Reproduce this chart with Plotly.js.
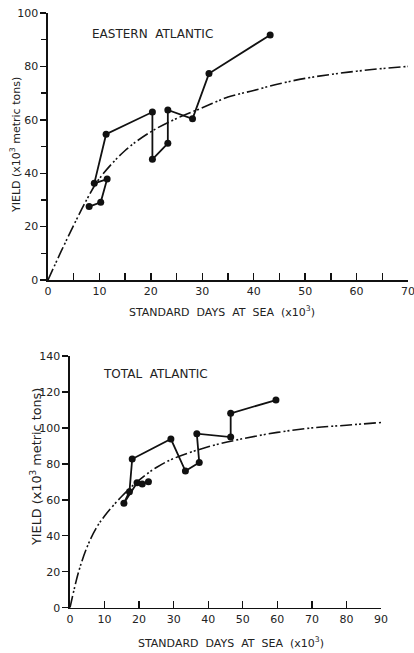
<!DOCTYPE html>
<html>
<head>
<meta charset="utf-8">
<script src="https://cdn.plot.ly/plotly-3.0.1.min.js"></script>
<style>html,body{margin:0;padding:0;background:#fff;}#chart{width:414px;height:653px;}</style>
</head>
<body>
<div id="chart"></div>
<script>
// Eastern Atlantic observed (standard days x10^3, yield x10^3 t)
var eastDays  = [8.0, 10.25, 11.5, 9.0, 11.3, 20.3, 20.3, 23.3, 23.3, 28.1, 31.3, 43.2];
var eastYield = [27.5, 29.1, 37.8, 36.2, 54.6, 62.9, 45.2, 51.2, 63.7, 60.4, 77.3, 91.8];
// Eastern Atlantic fitted curve
var eastCurveDays  = [0, 2.5, 5, 7.5, 10, 15, 20, 25, 30, 35, 40, 45, 50, 55, 60, 65, 70];
var eastCurveYield = [0, 10.5, 20.5, 30, 38, 48.5, 55.5, 60.5, 64.5, 68.5, 71, 73.5, 75.5, 77, 78.2, 79.2, 80];
// Total Atlantic observed
var totalDays  = [22.7, 20.9, 19.4, 15.6, 17.2, 18.0, 29.2, 33.4, 37.4, 36.7, 46.5, 46.5, 59.6];
var totalYield = [70.0, 68.8, 69.5, 58.1, 64.5, 82.7, 93.8, 76.0, 80.8, 96.8, 94.9, 108.1, 115.5];
// Total Atlantic fitted curve
var totalCurveDays  = [0, 2.5, 5, 7.5, 10, 15, 20, 25, 30, 40, 50, 60, 70, 80, 90];
var totalCurveYield = [0, 20, 34, 44, 51, 62, 71, 78, 83, 89.5, 94, 97.5, 100, 101.5, 103];

var ink = '#111';
var curveDash = '12px,3px,2px,2px,2px,3px';
var fontFam = 'DejaVu Sans, sans-serif';

var traces = [
  {x: eastCurveDays, y: eastCurveYield, mode: 'lines', line: {color: ink, width: 1.6, dash: curveDash, shape: 'spline'}, xaxis: 'x', yaxis: 'y', hoverinfo: 'skip'},
  {x: eastDays, y: eastYield, mode: 'lines+markers', line: {color: ink, width: 1.8}, marker: {color: ink, size: 7}, xaxis: 'x', yaxis: 'y', cliponaxis: false},
  {x: totalCurveDays, y: totalCurveYield, mode: 'lines', line: {color: ink, width: 1.6, dash: curveDash, shape: 'spline'}, xaxis: 'x2', yaxis: 'y2', hoverinfo: 'skip'},
  {x: totalDays, y: totalYield, mode: 'lines+markers', line: {color: ink, width: 1.8}, marker: {color: ink, size: 7}, xaxis: 'x2', yaxis: 'y2', cliponaxis: false}
];

var W = 414, H = 653;
function px(x){return x / W;}
function py(y){return 1 - y / H;}

var tickFont = {family: fontFam, size: 11, color: '#222'};
var axBase = {showgrid: false, zeroline: false, showline: true, linecolor: ink, linewidth: 1.6, tickcolor: ink, tickwidth: 1.4,
  tickfont: tickFont, fixedrange: true, ticklabeloverflow: 'allow'};

function ann(text, x, y, size, angle){
  return {text: text, x: px(x), y: py(y), xref: 'paper', yref: 'paper', xanchor: 'center', yanchor: 'middle',
    showarrow: false, textangle: angle || 0, font: {family: fontFam, size: size, color: '#222'}};
}

var layout = {
  width: W, height: H,
  margin: {l: 0, r: 0, t: 0, b: 0},
  paper_bgcolor: '#fff', plot_bgcolor: '#fff',
  showlegend: false,
  font: {family: fontFam, color: '#222'},
  xaxis: Object.assign({}, axBase, {domain: [px(48), px(408)], range: [0, 70], dtick: 10, ticks: 'inside', ticklen: 7,
    minor: {dtick: 5, ticks: 'inside', ticklen: 7, tickcolor: ink, tickwidth: 1.4}, anchor: 'y'}),
  yaxis: Object.assign({}, axBase, {domain: [py(280), py(13)], range: [0, 100], dtick: 20, ticks: 'outside', ticklen: 6,
    minor: {dtick: 10, ticks: 'outside', ticklen: 5, tickcolor: ink, tickwidth: 1.4}, anchor: 'x'}),
  xaxis2: Object.assign({}, axBase, {domain: [px(70), px(381)], range: [0, 90], dtick: 10, ticks: 'inside', ticklen: 7, anchor: 'y2'}),
  yaxis2: Object.assign({}, axBase, {domain: [py(607.7), py(356)], range: [0, 140], dtick: 20, ticks: 'outside', ticklen: 6, anchor: 'x2'}),
  annotations: [
    ann('EASTERN  ATLANTIC', 152, 34, 12),
    ann('TOTAL  ATLANTIC', 155, 374, 12),
    ann('YIELD (x10<sup>3</sup> metric tons)', 15, 145, 11, -90),
    ann('YIELD (x10<sup>3</sup> metric tons)', 36, 467, 12.8, -90),
    ann('STANDARD  DAYS  AT  SEA  (x10<sup>3</sup>)', 222, 312, 11),
    ann('STANDARD  DAYS  AT  SEA  (x10<sup>3</sup>)', 231, 642, 11)
  ]
};

Plotly.newPlot('chart', traces, layout, {staticPlot: true, displayModeBar: false});
</script>
</body>
</html>
